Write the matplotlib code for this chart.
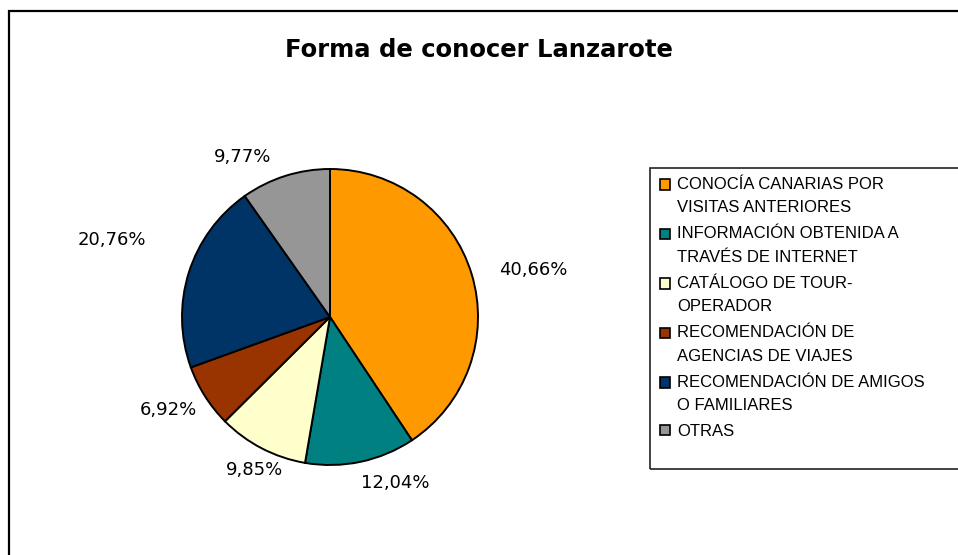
import matplotlib.pyplot as plt
from matplotlib.patches import Rectangle

# --------------------------------------------------------------
# data
categories = ["CONOCÍA CANARIAS POR\nVISITAS ANTERIORES",
              "INFORMACIÓN OBTENIDA A\nTRAVÉS DE INTERNET",
              "CATÁLOGO DE TOUR-\nOPERADOR",
              "RECOMENDACIÓN DE\nAGENCIAS DE VIAJES",
              "RECOMENDACIÓN DE AMIGOS\nO FAMILIARES",
              "OTRAS"]
values = [40.66, 12.04, 9.85, 6.92, 20.76, 9.77]
value_labels = ["40,66%", "12,04%", "9,85%", "6,92%", "20,76%", "9,77%"]

colors = ['#FF9900', '#008080', '#FFFFCC', '#993300', '#003366', '#969696']
# label centres in units of the pie radius (Excel "best fit" placement)
label_xy = [(1.372, 0.318), (0.439, -1.122), (-0.507, -1.034),
            (-1.095, -0.628), (-1.473, 0.520), (-0.588, 1.081)]

W, H = 958, 555
fig = plt.figure(figsize=(W / 100, H / 100), dpi=100)
fig.patch.set_facecolor('white')

# outer chart border (runs off right and bottom edges)
fig.patches.append(Rectangle((8.5 / W, -0.1), 1.2, 1.1 - 11 / H, transform=fig.transFigure,
                             fill=False, edgecolor='black', linewidth=1.6))

fig.text(0.5, 1 - 50 / H, "Forma de conocer Lanzarote", ha='center', va='center',
         fontsize=17.5, fontweight='bold', family='DejaVu Sans')

# --------------------------------------------------------------
# pie
cx, cy, r = 330, H - 317, 148
ax = fig.add_axes([(cx - r) / W, (cy - r) / H, 2 * r / W, 2 * r / H])
wedges, _ = ax.pie(values, colors=colors, startangle=90, counterclock=False,
                   radius=1, wedgeprops=dict(edgecolor='black', linewidth=1.4))
ax.set_xlim(-1, 1)
ax.set_ylim(-1, 1)
ax.set_aspect('equal')
ax.axis('off')

for (lx, ly), txt in zip(label_xy, value_labels):
    ax.text(lx, ly, txt, ha='center', va='center', fontsize=13,
            family='DejaVu Sans', clip_on=False)

# --------------------------------------------------------------
# legend
fig.patches.append(Rectangle((650 / W, 1 - 469 / H), 0.5, (469 - 168) / H, transform=fig.transFigure,
                             fill=False, edgecolor='#222222', linewidth=1.2))
leg = fig.legend(wedges, categories, loc='upper left', bbox_to_anchor=(653 / W, 1 - 170 / H),
                 frameon=False, prop=dict(family='Liberation Sans', size=12),
                 handlelength=0.6, handleheight=0.6, handletextpad=0.45,
                 labelspacing=0.65, borderaxespad=0)
for t in leg.get_texts():
    t.set_linespacing(1.72)
# Excel puts the marker next to the first line of a wrapped entry
for p, lab in zip(leg.get_patches(), categories):
    p.set_linewidth(1.2)
    if '\n' in lab:
        p.set_y(p.get_y() + 8.3)

fig.savefig('out.png', dpi=100)
